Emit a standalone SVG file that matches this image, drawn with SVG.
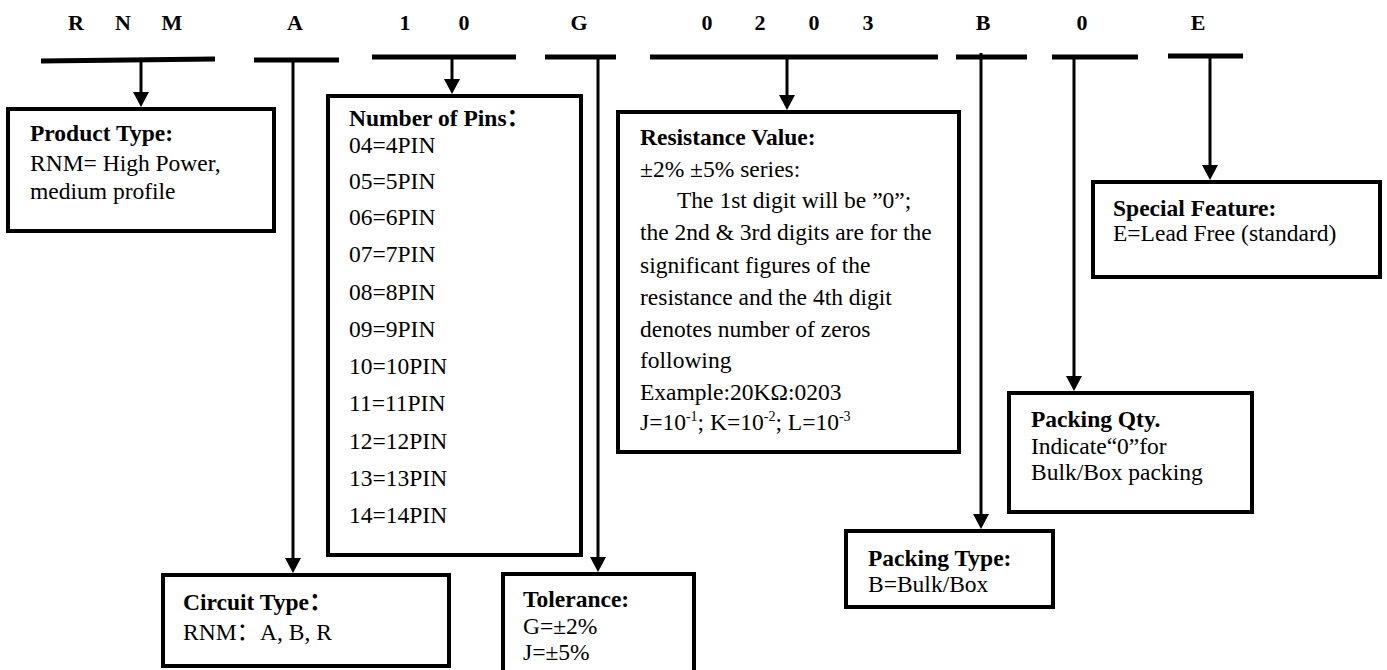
<svg xmlns="http://www.w3.org/2000/svg" width="1387" height="670" viewBox="0 0 1387 670">
<style>
text{font-family:"Liberation Serif","Times New Roman","Noto Sans CJK SC",serif;font-size:23.5px;fill:#000}
.b{font-weight:bold}
.code{font-weight:bold;font-size:22px;text-anchor:middle}
.bar{stroke:#000;stroke-width:5;fill:none}
.box{fill:#fff;stroke:#000;stroke-width:4}
.ln{stroke:#000;stroke-width:3;fill:none}
.arr{marker-end:url(#ah)}
.sup{font-size:14px}
</style>
<defs>
<marker id="ah" viewBox="0 0 15 16" markerWidth="15" markerHeight="16" refX="9" refY="8" orient="auto" markerUnits="userSpaceOnUse">
<path d="M0,0 L15,8 L0,16 z" fill="#000"/>
</marker>
</defs>
<rect width="1387" height="670" fill="#fff"/>
<g id="code">
<text class="code" x="76" y="30">R</text>
<text class="code" x="123" y="30">N</text>
<text class="code" x="172" y="30">M</text>
<text class="code" x="295" y="30">A</text>
<text class="code" x="405" y="30">1</text>
<text class="code" x="464" y="30">0</text>
<text class="code" x="579" y="30">G</text>
<text class="code" x="707" y="30">0</text>
<text class="code" x="760" y="30">2</text>
<text class="code" x="814" y="30">0</text>
<text class="code" x="868" y="30">3</text>
<text class="code" x="983" y="30">B</text>
<text class="code" x="1082" y="30">0</text>
<text class="code" x="1198" y="30">E</text>
</g>
<g id="bars">
<line class="bar" x1="41" y1="61" x2="215" y2="59"/>
<line class="bar" x1="254" y1="60" x2="339" y2="60"/>
<line class="bar" x1="372" y1="57" x2="516" y2="57"/>
<line class="bar" x1="545" y1="57" x2="616" y2="57"/>
<line class="bar" x1="650" y1="57" x2="938" y2="57"/>
<line class="bar" x1="956" y1="57" x2="1027" y2="57"/>
<line class="bar" x1="1052" y1="57" x2="1138" y2="57"/>
<line class="bar" x1="1168" y1="56" x2="1243" y2="56"/>
</g>
<g id="connectors">
<line class="ln arr" x1="141" y1="60" x2="141" y2="101"/>
<line class="ln arr" x1="293" y1="60" x2="293" y2="567"/>
<line class="ln arr" x1="452" y1="57" x2="452" y2="88"/>
<line class="ln arr" x1="598" y1="57" x2="598" y2="566"/>
<line class="ln arr" x1="787" y1="57" x2="787" y2="104"/>
<line class="ln arr" x1="981" y1="53" x2="981" y2="523"/>
<line class="ln arr" x1="1074" y1="57" x2="1074" y2="385"/>
<line class="ln arr" x1="1210" y1="56" x2="1210" y2="174"/>
</g>
<g id="product">
<rect class="box" x="8" y="109" width="266" height="122"/>
<text class="b" x="30" y="141">Product Type:</text>
<text x="30" y="171">RNM= High Power,</text>
<text x="30" y="199">medium profile</text>
</g>
<g id="pins">
<rect class="box" x="328" y="96" width="253" height="459"/>
<text class="b" x="349" y="126">Number of Pins：</text>
<text x="349" y="153">04=4PIN</text>
<text x="349" y="189">05=5PIN</text>
<text x="349" y="225">06=6PIN</text>
<text x="349" y="262">07=7PIN</text>
<text x="349" y="300">08=8PIN</text>
<text x="349" y="337">09=9PIN</text>
<text x="349" y="374">10=10PIN</text>
<text x="349" y="411">11=11PIN</text>
<text x="349" y="449">12=12PIN</text>
<text x="349" y="486">13=13PIN</text>
<text x="349" y="523">14=14PIN</text>
</g>
<g id="resistance">
<rect class="box" x="618" y="112" width="341" height="340"/>
<text class="b" x="640" y="145">Resistance Value:</text>
<text x="640" y="177">±2% ±5% series:</text>
<text x="677" y="208">The 1st digit will be ”0”;</text>
<text x="640" y="240">the 2nd &amp; 3rd digits are for the</text>
<text x="640" y="273">significant figures of the</text>
<text x="640" y="305">resistance and the 4th digit</text>
<text x="640" y="337">denotes number of zeros</text>
<text x="640" y="368">following</text>
<text x="640" y="400">Example:20KΩ:0203</text>
<text x="640" y="430">J=10<tspan class="sup" dy="-9">-1</tspan><tspan dy="9">; K=10</tspan><tspan class="sup" dy="-9">-2</tspan><tspan dy="9">; L=10</tspan><tspan class="sup" dy="-9">-3</tspan></text>
</g>
<g id="circuit">
<rect class="box" x="163" y="575" width="286" height="91"/>
<text class="b" x="183" y="610">Circuit Type：</text>
<text x="183" y="640">RNM：A, B, R</text>
</g>
<g id="tolerance">
<rect class="box" x="503" y="574" width="191" height="110"/>
<text class="b" x="523" y="607">Tolerance:</text>
<text x="523" y="634">G=±2%</text>
<text x="523" y="660">J=±5%</text>
</g>
<g id="packtype">
<rect class="box" x="846" y="531" width="207" height="76"/>
<text class="b" x="868" y="566">Packing Type:</text>
<text x="868" y="592">B=Bulk/Box</text>
</g>
<g id="packqty">
<rect class="box" x="1009" y="393" width="243" height="119"/>
<text class="b" x="1031" y="427">Packing Qty.</text>
<text x="1031" y="454">Indicate“0”for</text>
<text x="1031" y="480">Bulk/Box packing</text>
</g>
<g id="special">
<rect class="box" x="1093" y="182" width="287" height="95"/>
<text class="b" x="1113" y="216">Special Feature:</text>
<text x="1113" y="241">E=Lead Free (standard)</text>
</g>
</svg>
